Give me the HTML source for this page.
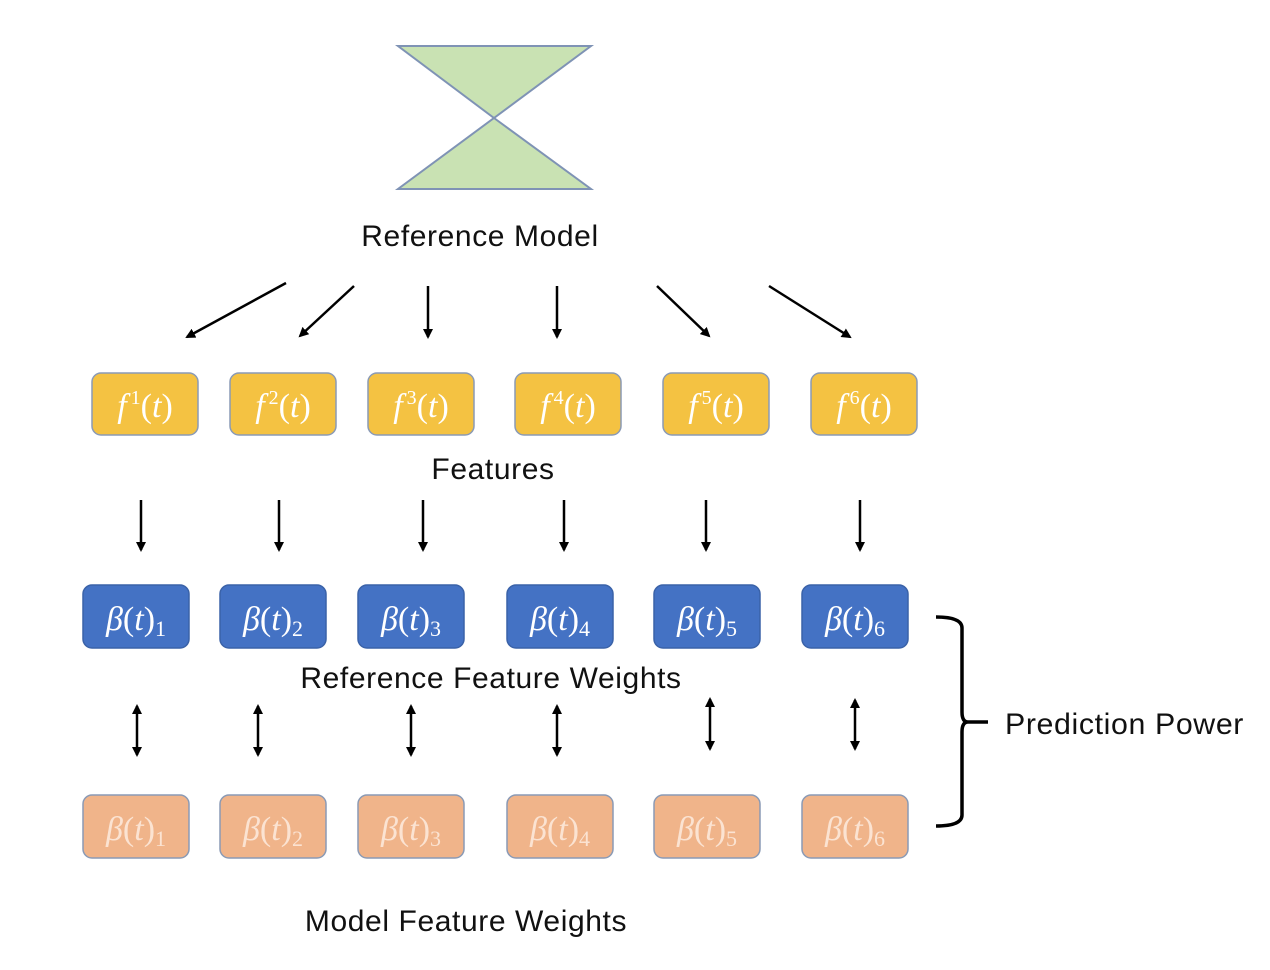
<!DOCTYPE html>
<html><head><meta charset="utf-8"><style>
html,body{margin:0;padding:0;background:#fff;}
svg{display:block}
.l{font-family:"Liberation Sans",sans-serif;font-size:30px;letter-spacing:0.6px;fill:#111}
.m{font-family:"Liberation Serif",serif;font-style:italic;font-size:34px;fill:#fff}
</style></head><body>
<svg width="1270" height="970" viewBox="0 0 1270 970" xmlns="http://www.w3.org/2000/svg">
<defs>
<marker id="a" markerWidth="10" markerHeight="10" refX="8" refY="5" orient="auto" markerUnits="userSpaceOnUse"><path d="M0,0 L10,5 L0,10 z" fill="#000"/></marker>
<marker id="s" markerWidth="10" markerHeight="10" refX="2" refY="5" orient="auto" markerUnits="userSpaceOnUse"><path d="M10,0 L0,5 L10,10 z" fill="#000"/></marker>
</defs>
<polygon points="398,46 591,46 494,118" fill="#c9e2b3" stroke="#7f93b5" stroke-width="2"/>
<polygon points="494,118 591,189 398,189" fill="#c9e2b3" stroke="#7f93b5" stroke-width="2"/>
<text class="l" x="480" y="246" text-anchor="middle">Reference Model</text>
<g stroke="#000" stroke-width="2.5" marker-end="url(#a)">
<line x1="286" y1="283" x2="187" y2="337"/>
<line x1="354" y1="286" x2="300" y2="336"/>
<line x1="428" y1="286" x2="428" y2="337"/>
<line x1="557" y1="286" x2="557" y2="337"/>
<line x1="657" y1="286" x2="709" y2="336"/>
<line x1="769" y1="286" x2="850" y2="337"/>
<line x1="141" y1="500" x2="141" y2="550"/>
<line x1="279" y1="500" x2="279" y2="550"/>
<line x1="423" y1="500" x2="423" y2="550"/>
<line x1="564" y1="500" x2="564" y2="550"/>
<line x1="706" y1="500" x2="706" y2="550"/>
<line x1="860" y1="500" x2="860" y2="550"/>
</g>
<g stroke="#000" stroke-width="2.5" marker-end="url(#a)" marker-start="url(#s)">
<line x1="137" y1="706" x2="137" y2="755"/>
<line x1="258" y1="706" x2="258" y2="755"/>
<line x1="411" y1="706" x2="411" y2="755"/>
<line x1="557" y1="706" x2="557" y2="755"/>
<line x1="710" y1="699" x2="710" y2="749"/>
<line x1="855" y1="700" x2="855" y2="749"/>
</g>
<g fill="#f4c242" stroke="#8a9ab5" stroke-width="1.5">
<rect x="92" y="373" width="106" height="62" rx="9"/>
<rect x="230" y="373" width="106" height="62" rx="9"/>
<rect x="368" y="373" width="106" height="62" rx="9"/>
<rect x="515" y="373" width="106" height="62" rx="9"/>
<rect x="663" y="373" width="106" height="62" rx="9"/>
<rect x="811" y="373" width="106" height="62" rx="9"/>
</g>
<g class="m" text-anchor="middle">
<text x="145" y="417">f<tspan font-size="20" dx="4" dy="-13" font-style="normal">1</tspan><tspan dy="13" font-style="normal">(</tspan>t<tspan font-style="normal">)</tspan></text>
<text x="283" y="417">f<tspan font-size="20" dx="4" dy="-13" font-style="normal">2</tspan><tspan dy="13" font-style="normal">(</tspan>t<tspan font-style="normal">)</tspan></text>
<text x="421" y="417">f<tspan font-size="20" dx="4" dy="-13" font-style="normal">3</tspan><tspan dy="13" font-style="normal">(</tspan>t<tspan font-style="normal">)</tspan></text>
<text x="568" y="417">f<tspan font-size="20" dx="4" dy="-13" font-style="normal">4</tspan><tspan dy="13" font-style="normal">(</tspan>t<tspan font-style="normal">)</tspan></text>
<text x="716" y="417">f<tspan font-size="20" dx="4" dy="-13" font-style="normal">5</tspan><tspan dy="13" font-style="normal">(</tspan>t<tspan font-style="normal">)</tspan></text>
<text x="864" y="417">f<tspan font-size="20" dx="4" dy="-13" font-style="normal">6</tspan><tspan dy="13" font-style="normal">(</tspan>t<tspan font-style="normal">)</tspan></text>
</g>
<text class="l" x="493" y="479" text-anchor="middle">Features</text>
<g fill="#4472c4" stroke="#3a62a8" stroke-width="1.5">
<rect x="83" y="585" width="106" height="63" rx="9"/>
<rect x="220" y="585" width="106" height="63" rx="9"/>
<rect x="358" y="585" width="106" height="63" rx="9"/>
<rect x="507" y="585" width="106" height="63" rx="9"/>
<rect x="654" y="585" width="106" height="63" rx="9"/>
<rect x="802" y="585" width="106" height="63" rx="9"/>
</g>
<g fill="#f0b48a" stroke="#8a9ab5" stroke-width="1.5">
<rect x="83" y="795" width="106" height="63" rx="9"/>
<rect x="220" y="795" width="106" height="63" rx="9"/>
<rect x="358" y="795" width="106" height="63" rx="9"/>
<rect x="507" y="795" width="106" height="63" rx="9"/>
<rect x="654" y="795" width="106" height="63" rx="9"/>
<rect x="802" y="795" width="106" height="63" rx="9"/>
</g>
<g class="m" text-anchor="middle">
<text x="136" y="630">β<tspan font-style="normal">(</tspan>t<tspan font-style="normal">)</tspan><tspan font-size="22" dy="6" font-style="normal">1</tspan></text>
<text x="273" y="630">β<tspan font-style="normal">(</tspan>t<tspan font-style="normal">)</tspan><tspan font-size="22" dy="6" font-style="normal">2</tspan></text>
<text x="411" y="630">β<tspan font-style="normal">(</tspan>t<tspan font-style="normal">)</tspan><tspan font-size="22" dy="6" font-style="normal">3</tspan></text>
<text x="560" y="630">β<tspan font-style="normal">(</tspan>t<tspan font-style="normal">)</tspan><tspan font-size="22" dy="6" font-style="normal">4</tspan></text>
<text x="707" y="630">β<tspan font-style="normal">(</tspan>t<tspan font-style="normal">)</tspan><tspan font-size="22" dy="6" font-style="normal">5</tspan></text>
<text x="855" y="630">β<tspan font-style="normal">(</tspan>t<tspan font-style="normal">)</tspan><tspan font-size="22" dy="6" font-style="normal">6</tspan></text>
</g>
<g class="m" text-anchor="middle" style="fill:#fbe3d2">
<text x="136" y="840">β<tspan font-style="normal">(</tspan>t<tspan font-style="normal">)</tspan><tspan font-size="22" dy="6" font-style="normal">1</tspan></text>
<text x="273" y="840">β<tspan font-style="normal">(</tspan>t<tspan font-style="normal">)</tspan><tspan font-size="22" dy="6" font-style="normal">2</tspan></text>
<text x="411" y="840">β<tspan font-style="normal">(</tspan>t<tspan font-style="normal">)</tspan><tspan font-size="22" dy="6" font-style="normal">3</tspan></text>
<text x="560" y="840">β<tspan font-style="normal">(</tspan>t<tspan font-style="normal">)</tspan><tspan font-size="22" dy="6" font-style="normal">4</tspan></text>
<text x="707" y="840">β<tspan font-style="normal">(</tspan>t<tspan font-style="normal">)</tspan><tspan font-size="22" dy="6" font-style="normal">5</tspan></text>
<text x="855" y="840">β<tspan font-style="normal">(</tspan>t<tspan font-style="normal">)</tspan><tspan font-size="22" dy="6" font-style="normal">6</tspan></text>
</g>
<text class="l" x="491" y="688" text-anchor="middle">Reference Feature Weights</text>
<path d="M936,617 Q962,617 962,628 L962,712 Q962,722 968,722 L988,722 M968,722 Q962,722 962,732 L962,815 Q962,826 936,826" fill="none" stroke="#000" stroke-width="3.5"/>
<text class="l" x="1005" y="734" textLength="239" lengthAdjust="spacingAndGlyphs">Prediction Power</text>
<text class="l" x="466" y="931" text-anchor="middle">Model Feature Weights</text>
</svg>
</body></html>
